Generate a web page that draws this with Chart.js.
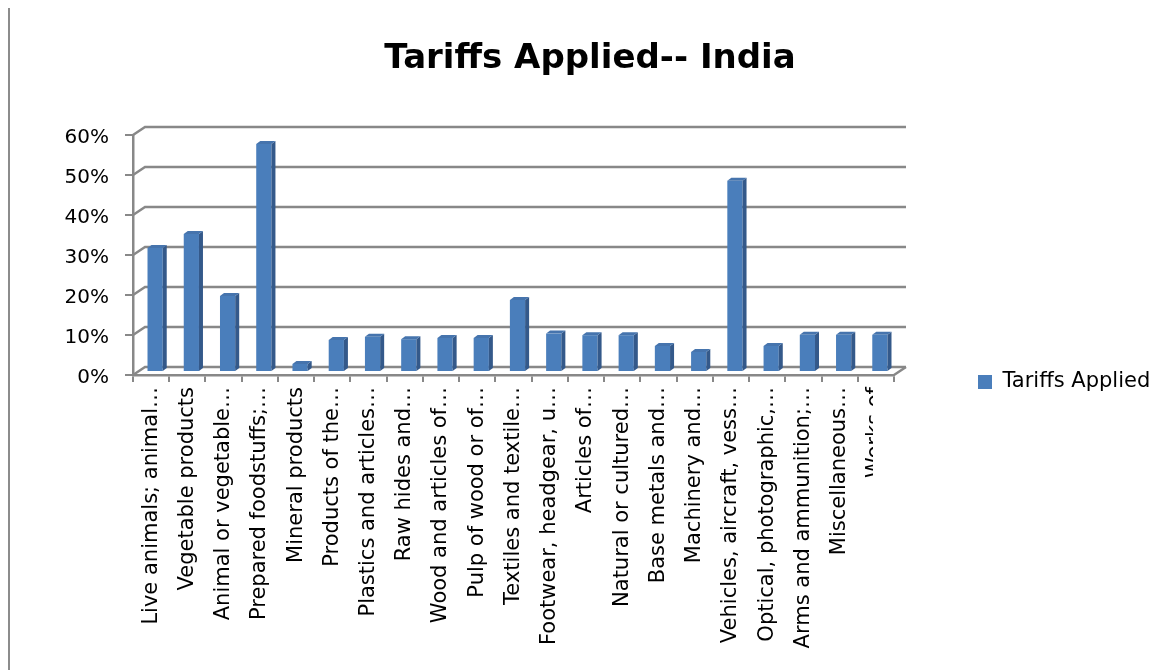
<!DOCTYPE html>
<html><head><meta charset="utf-8">
<script src="https://cdn.jsdelivr.net/npm/chart.js@4/dist/chart.umd.min.js"></script>
<style>
html,body{margin:0;padding:0;background:#fff;}
#wrap{position:relative;width:1167px;height:670px;overflow:hidden;}
#border{position:absolute;left:8px;top:8px;width:2px;height:662px;background:#8c8c8c;}
canvas{position:absolute;left:0;top:0;}
</style></head><body>
<div id="wrap"><div id="border"></div><canvas id="c" width="1167" height="670" style="width:1167px;height:670px"></canvas></div>
<script>
const chartTitle = 'Tariffs Applied-- India';
const seriesLabel = 'Tariffs Applied';
const categories = [
  'Live animals; animal…', 'Vegetable products', 'Animal or vegetable…', 'Prepared foodstuffs;…',
  'Mineral products', 'Products of the…', 'Plastics and articles…', 'Raw hides and…',
  'Wood and articles of…', 'Pulp of wood or of…', 'Textiles and textile…', 'Footwear, headgear, u…',
  'Articles of…', 'Natural or cultured…', 'Base metals and…', 'Machinery and…',
  'Vehicles, aircraft, vess…', 'Optical, photographic,…', 'Arms and ammunition;…', 'Miscellaneous…', 'Works of'
];
const tariffValues = [0.31, 0.345, 0.19, 0.57, 0.02, 0.08, 0.088, 0.082, 0.085, 0.085, 0.18,
  0.096, 0.092, 0.092, 0.065, 0.05, 0.478, 0.065, 0.093, 0.093, 0.093];
const yMin = 0, yMax = 0.6, yStep = 0.1;

const GRID = '#888888';
const DX = 12, DY = -8, BX = 4, BY = -3;
const LABEL_CLIP_X = 873;

const depthPlugin = {
  id: 'depth3d',
  afterLayout(chart) {
    const xs = chart.scales.x;
    if (xs && !xs._clipWrapped) {
      const orig = xs.drawLabels;
      xs.drawLabels = function (area) {
        const c = this.ctx;
        c.save();
        c.beginPath();
        c.rect(0, 0, LABEL_CLIP_X, chart.height);
        c.clip();
        orig.call(this, area);
        c.restore();
      };
      xs._clipWrapped = true;
    }
  },
  beforeDatasetsDraw(chart) {
    const {ctx, chartArea: a, scales: {y}} = chart;
    ctx.save();
    ctx.strokeStyle = GRID; ctx.lineWidth = 2.5;
    y.ticks.forEach(t => {
      const py = y.getPixelForValue(t.value);
      ctx.beginPath();
      ctx.moveTo(a.left, py);
      ctx.lineTo(a.left + DX, py + DY);
      ctx.lineTo(a.right + DX, py + DY);
      ctx.stroke();
    });
    ctx.beginPath();
    ctx.moveTo(a.right, a.bottom);
    ctx.lineTo(a.right + DX, a.bottom + DY);
    ctx.stroke();
    ctx.restore();
    ctx.save();
    ctx.translate(BX, BY);
  },
  afterDatasetsDraw(chart) {
    const ctx = chart.ctx;
    ctx.restore();
    const meta = chart.getDatasetMeta(0);
    ctx.save();
    ctx.translate(BX, BY);
    meta.data.forEach(bar => {
      const {x, y, base, width} = bar.getProps(['x', 'y', 'base', 'width'], true);
      const l = x - width / 2, r = x + width / 2;
      ctx.fillStyle = '#34598a';
      ctx.beginPath();
      ctx.moveTo(r, y); ctx.lineTo(r + BX, y + BY); ctx.lineTo(r + BX, base + BY); ctx.lineTo(r, base);
      ctx.closePath(); ctx.fill();
      ctx.fillStyle = '#4674ad';
      ctx.beginPath();
      ctx.moveTo(l, y); ctx.lineTo(l + BX, y + BY); ctx.lineTo(r + BX, y + BY); ctx.lineTo(r, y);
      ctx.closePath(); ctx.fill();
    });
    ctx.restore();
  }
};

Chart.defaults.font.family = 'DejaVu Sans';
Chart.defaults.color = '#000';

new Chart(document.getElementById('c'), {
  type: 'bar',
  data: {
    labels: categories,
    datasets: [{
      label: seriesLabel, data: tariffValues, backgroundColor: '#4a7ebb',
      borderWidth: 0, barPercentage: 0.42, categoryPercentage: 1, yAxisID: 'y'
    }]
  },
  options: {
    responsive: false, animation: false, devicePixelRatio: 1,
    layout: {padding: {left: 23, right: 10, top: 0, bottom: -94}},
    plugins: {
      title: {display: true, text: chartTitle, color: '#000',
        font: {family: 'DejaVu Sans', size: 34, weight: 'bold', lineHeight: 1.2},
        padding: {top: 38.6, bottom: 55.6}},
      legend: {position: 'right', align: 'center',
        labels: {boxWidth: 14, boxHeight: 14, padding: 10, color: '#000', font: {size: 21}}},
      tooltip: {enabled: false}
    },
    scales: {
      x: {
        grid: {offset: true, color: 'rgba(0,0,0,0)', tickColor: GRID, tickLength: 7, lineWidth: 2},
        border: {color: GRID, width: 2.5},
        ticks: {autoSkip: false, minRotation: 90, maxRotation: 90, padding: 5, color: '#000', font: {size: 21}},
        afterFit(s) { s.height = 389; }
      },
      y: {
        min: yMin, max: yMax,
        ticks: {stepSize: yStep, padding: 16, labelOffset: 3, color: '#000', font: {size: 20},
          callback: v => Math.round(v * 100) + '%'},
        grid: {color: 'rgba(0,0,0,0)', tickColor: GRID, tickLength: 8, lineWidth: 2},
        border: {color: GRID, width: 2.5},
        afterFit(s) { s.width = 110; }
      },
      y2: {
        position: 'right', display: true,
        grid: {display: false}, border: {display: false}, ticks: {display: false},
        afterFit(s) { s.width = 74; }
      }
    }
  },
  plugins: [depthPlugin]
});
</script>
</body></html>
